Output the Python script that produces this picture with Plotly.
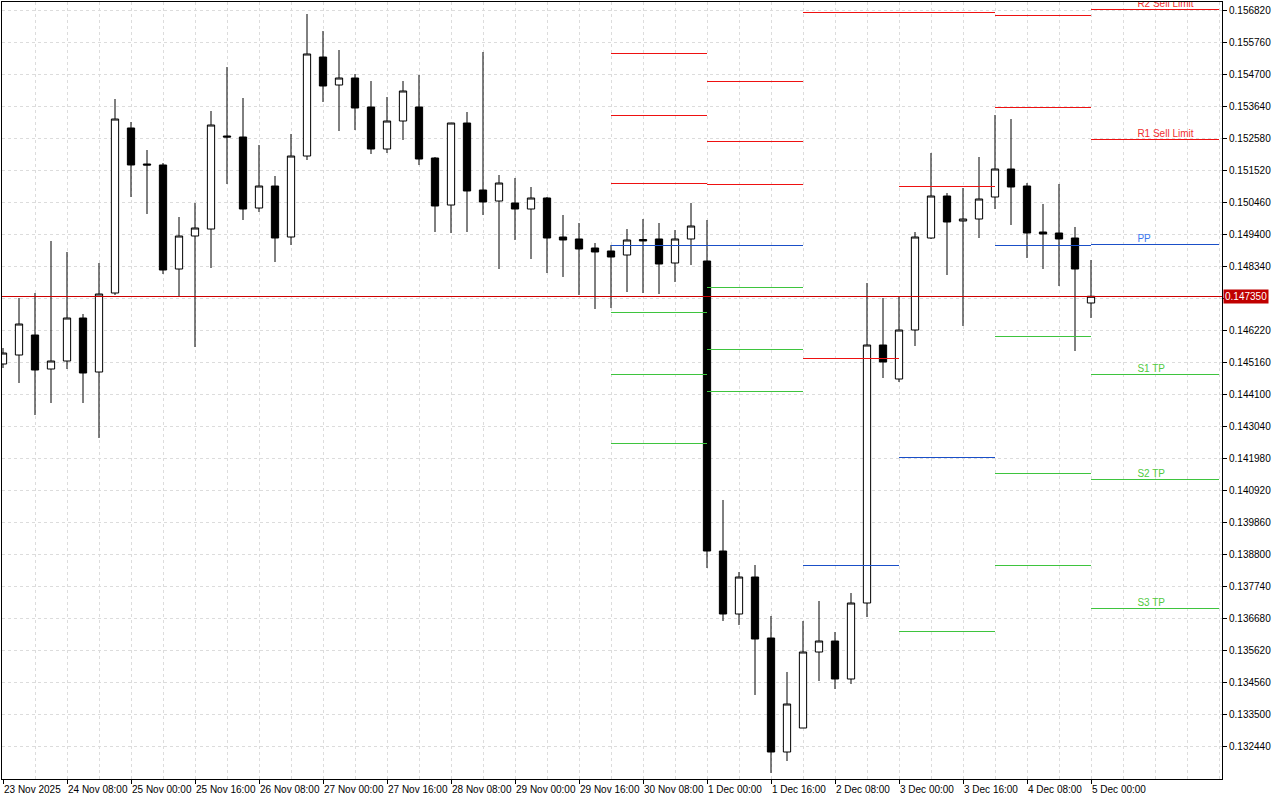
import plotly.graph_objects as go

# 4 hour bars, bar 0 = 23 Nov 16:00, last bar = 5 Dec 00:00
opens = [
	0.145110, 0.145407, 0.146069, 0.144944, 0.145209, 0.146631, 0.144845, 0.147458,
	0.152917, 0.151726, 0.151693, 0.148252, 0.149344, 0.149575, 0.152652, 0.152619,
	0.150270, 0.150998, 0.149311, 0.151990, 0.155265, 0.154339, 0.154571, 0.153611,
	0.152222, 0.153148, 0.153611, 0.151924, 0.150369, 0.153082, 0.150866, 0.150502,
	0.150436, 0.150237, 0.150601, 0.149311, 0.149245, 0.148947, 0.148848, 0.148715,
	0.149228, 0.149245, 0.148451, 0.149245, 0.148517, 0.138923, 0.136839, 0.138063,
	0.136045, 0.132274, 0.133068, 0.135582, 0.135946, 0.134689, 0.137203, 0.145738,
	0.144613, 0.146234, 0.149278, 0.150667, 0.149840, 0.149906, 0.150634, 0.151560,
	0.150998, 0.149476, 0.149443, 0.149278, 0.147128
]
highs = [
	0.145639, 0.147293, 0.147458, 0.149179, 0.148815, 0.146764, 0.148451, 0.153876,
	0.153115, 0.152189, 0.151759, 0.149972, 0.150436, 0.153479, 0.154934, 0.153909,
	0.152354, 0.151329, 0.152718, 0.156688, 0.156125, 0.155497, 0.154703, 0.154471,
	0.153942, 0.154471, 0.154670, 0.151957, 0.153082, 0.153446, 0.155431, 0.151362,
	0.151263, 0.150965, 0.150634, 0.150039, 0.149774, 0.149112, 0.149046, 0.149575,
	0.149906, 0.149774, 0.149542, 0.150436, 0.149873, 0.140611, 0.138229, 0.138460,
	0.136773, 0.134921, 0.136608, 0.137269, 0.136244, 0.137534, 0.147789, 0.147293,
	0.147326, 0.149476, 0.152090, 0.150766, 0.150932, 0.151957, 0.153347, 0.153214,
	0.151097, 0.150403, 0.151064, 0.149642, 0.148550
]
lows = [
	0.144977, 0.144481, 0.143422, 0.143819, 0.144944, 0.143819, 0.142662, 0.147392,
	0.150634, 0.150072, 0.148087, 0.147359, 0.145672, 0.148285, 0.151064, 0.149873,
	0.150138, 0.148484, 0.149046, 0.151858, 0.153777, 0.152817, 0.152850, 0.152057,
	0.152090, 0.152520, 0.151693, 0.149476, 0.149443, 0.149476, 0.150039, 0.148252,
	0.149212, 0.148583, 0.148120, 0.147988, 0.147392, 0.146929, 0.146962, 0.147491,
	0.147458, 0.147425, 0.147822, 0.148385, 0.138361, 0.136608, 0.136475, 0.134160,
	0.131580, 0.131976, 0.133068, 0.134623, 0.134358, 0.134524, 0.136740, 0.144646,
	0.144514, 0.145705, 0.149245, 0.148054, 0.146367, 0.149278, 0.150237, 0.149708,
	0.148616, 0.148252, 0.147690, 0.145540, 0.146631
]
closes = [
	0.145473, 0.146433, 0.144911, 0.145209, 0.146631, 0.144812, 0.147425, 0.153214,
	0.151693, 0.151693, 0.148219, 0.149344, 0.149609, 0.153016, 0.152619, 0.150237,
	0.150998, 0.149278, 0.151990, 0.155365, 0.154306, 0.154571, 0.153578, 0.152222,
	0.153148, 0.154141, 0.151891, 0.150336, 0.153082, 0.150833, 0.150469, 0.151097,
	0.150237, 0.150601, 0.149278, 0.149212, 0.148914, 0.148815, 0.148649, 0.149212,
	0.149179, 0.148418, 0.149245, 0.149675, 0.138923, 0.136839, 0.138063, 0.136012,
	0.132274, 0.133862, 0.135582, 0.135946, 0.134689, 0.137203, 0.145738, 0.145176,
	0.146234, 0.149311, 0.150667, 0.149807, 0.149906, 0.150568, 0.151560, 0.150965,
	0.149443, 0.149410, 0.149245, 0.148252, 0.147350
]

bar_index = list(range(len(opens)))

# labelled ticks every 4 bars
x_tick_labels = [
	'23 Nov 2025', '24 Nov 08:00', '25 Nov 00:00', '25 Nov 16:00', '26 Nov 08:00',
	'27 Nov 00:00', '27 Nov 16:00', '28 Nov 08:00', '29 Nov 00:00', '29 Nov 16:00',
	'30 Nov 08:00', '1 Dec 00:00', '1 Dec 16:00', '2 Dec 08:00', '3 Dec 00:00',
	'3 Dec 16:00', '4 Dec 08:00', '5 Dec 00:00'
]

y_tick_values = [
	0.156820, 0.155760, 0.154700, 0.153640, 0.152580, 0.151520, 0.150460, 0.149400,
	0.148340, 0.147280, 0.146220, 0.145160, 0.144100, 0.143040, 0.141980, 0.140920,
	0.139860, 0.138800, 0.137740, 0.136680, 0.135620, 0.134560, 0.133500, 0.132440
]

current_price = 0.147350

# daily pivot levels (30 Nov .. 5 Dec), drawn from first bar of the day to the next day
pivot_start = [38, 44, 50, 56, 62, 68]
pivot_end = [44, 50, 56, 62, 68, 76]
pivot_r3 = [0.155398, 0.154471, None, None, None, None]
pivot_r2 = [0.153347, 0.152454, 0.156737, 0.156737, 0.156655, 0.156853]
pivot_r1 = [0.151097, 0.151064, 0.145308, 0.150998, 0.153611, 0.152553]
pivot_pp = [0.149046, 0.149046, 0.138460, 0.142033, 0.149046, 0.149062]
pivot_s1 = [0.146797, 0.147657, None, 0.136277, 0.146036, 0.144779]
pivot_s2 = [0.144746, 0.145606, None, None, 0.141471, 0.141295]
pivot_s3 = [0.142496, 0.144216, None, None, 0.138460, 0.137028]

label_names = ['R2 Sell Limit', 'R1 Sell Limit', 'PP', 'S1 TP', 'S2 TP', 'S3 TP']

RED = '#ee1111'
BLUE = '#1a4fc8'
GREEN = '#3ec43e'
GRID = '#dcdcdc'
FONT = 'Liberation Sans'


def segments(levels_list):
	xs, ys = [], []
	for levels in levels_list:
		for start, end, value in zip(pivot_start, pivot_end, levels):
			if value is None:
				continue
			xs += [start, end, None]
			ys += [value, value, None]
	return xs, ys


fig = go.Figure()

fig.add_trace(go.Candlestick(
	x=bar_index,
	open=opens,
	high=highs,
	low=lows,
	close=closes,
	increasing=dict(line=dict(color='black', width=1), fillcolor='white'),
	decreasing=dict(line=dict(color='black', width=1), fillcolor='black'),
	whiskerwidth=0,
	showlegend=False
))

for levels_list, color in [
	([pivot_r3, pivot_r2, pivot_r1], RED),
	([pivot_pp], BLUE),
	([pivot_s1, pivot_s2, pivot_s3], GREEN)
]:
	xs, ys = segments(levels_list)
	fig.add_trace(go.Scatter(
		x=xs, y=ys, mode='lines',
		line=dict(color=color, width=1),
		hoverinfo='skip', showlegend=False
	))

# labels for the current day's levels
last_levels = [pivot_r2[-1], pivot_r1[-1], pivot_pp[-1], pivot_s1[-1], pivot_s2[-1], pivot_s3[-1]]
label_colors = ['#f03030', '#f03030', '#3a78f0', '#52c93f', '#52c93f', '#52c93f']
fig.add_trace(go.Scatter(
	x=[70.9] * len(last_levels),
	y=last_levels,
	mode='text',
	text=label_names,
	textposition='top right',
	textfont=dict(family=FONT, size=10, color=label_colors),
	hoverinfo='skip', showlegend=False
))

fig.add_shape(
	type='line', xref='paper', x0=0, x1=1,
	y0=current_price, y1=current_price,
	line=dict(color='#cc0000', width=1)
)

fig.add_annotation(
	xref='paper', x=1, xanchor='left', xshift=1,
	y=current_price, yref='y',
	text=f'{current_price:.6f}',
	showarrow=False,
	bgcolor='#c00000',
	borderpad=1,
	font=dict(family=FONT, size=10, color='white')
)

y_tick_text = [f'{v:.6f}' for v in y_tick_values]
y_tick_text[9] = ''

fig.update_layout(
	width=1280,
	height=800,
	margin=dict(l=2, r=58, t=2, b=21),
	paper_bgcolor='white',
	plot_bgcolor='white',
	font=dict(family=FONT, size=10, color='black'),
	boxgap=0.35,
	xaxis=dict(
		range=[-0.0625, 76.1875],
		tickmode='array',
		tickvals=bar_index[::4],
		ticktext=x_tick_labels,
		tickangle=0,
		ticklabelposition='outside right',
		ticklabelstandoff=1,
		ticks='outside',
		ticklen=4,
		tickcolor='black',
		automargin=False,
		showgrid=True,
		gridcolor=GRID,
		griddash='3px,3px',
		minor=dict(
			tickvals=list(range(0, 77, 2)),
			showgrid=True,
			gridcolor=GRID,
			griddash='3px,3px',
			ticks=''
		),
		showline=True,
		linecolor='black',
		linewidth=1,
		mirror=True,
		zeroline=False,
		rangeslider=dict(visible=False)
	),
	yaxis=dict(
		side='right',
		range=[0.131381, 0.157085],
		tickmode='array',
		tickvals=y_tick_values,
		ticktext=y_tick_text,
		ticks='outside',
		ticklen=4,
		tickcolor='black',
		automargin=False,
		showgrid=True,
		gridcolor=GRID,
		griddash='3px,3px',
		showline=True,
		linecolor='black',
		linewidth=1,
		mirror=True,
		zeroline=False
	)
)

# page body has a default 8px margin; drop it so the chart fills the window,
# and draw the level lines crisp like the terminal does
post = (
	"document.body.style.margin = '0';"
	"document.querySelectorAll('.scatterlayer .js-line, .shapelayer path')"
	".forEach(function (p) { p.style.shapeRendering = 'crispEdges'; });"
)
fig.write_html('out.html', post_script=post, config={'displayModeBar': False})
